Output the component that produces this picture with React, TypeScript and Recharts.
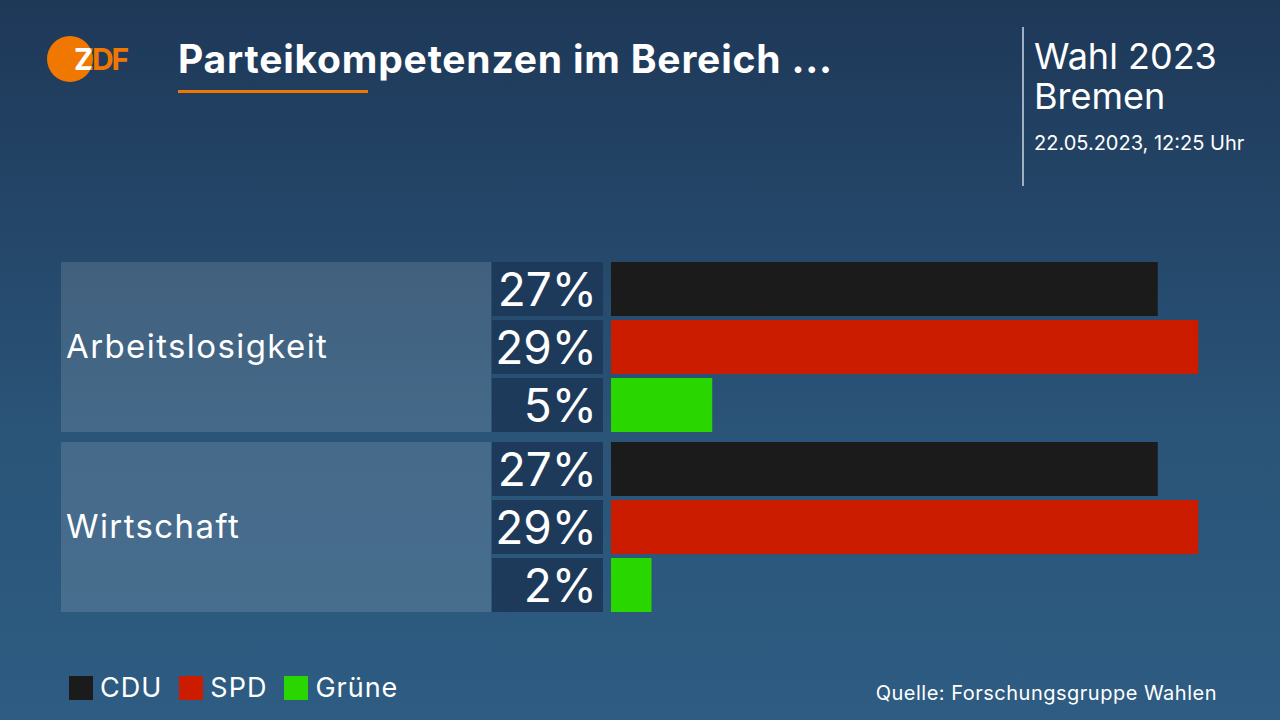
import React from "react";
import { BarChart, Bar, XAxis, YAxis, LabelList } from "recharts";

const topics = ["Arbeitslosigkeit", "Wirtschaft"];
const cdu = [27, 27];
const spd = [29, 29];
const gruene = [5, 2];

const parties = [
  { key: "cdu", name: "CDU", color: "#1b1b1b" },
  { key: "spd", name: "SPD", color: "#cc1c00" },
  { key: "gruene", name: "Grüne", color: "#2ad600" },
];

const data = topics.map((topic, i) => ({
  topic,
  cdu: cdu[i],
  spd: spd[i],
  gruene: gruene[i],
}));

const FONT = "Inter, 'Noto Sans', sans-serif";

// left panel with topic name, drawn as y axis tick
const TopicTick = (props: any) => {
  const { y, payload } = props;
  return (
    <g>
      <rect x={61} y={y - 85} width={430} height={170} fill="rgba(255,255,255,0.13)" />
      <text x={66} y={y + 11} fill="#fff" fontSize={33} letterSpacing={1.4} fontFamily={FONT}>
        {payload.value}
      </text>
    </g>
  );
};

// dark box with percentage left of each bar
const PctLabel = (props: any) => {
  const { x, y, height, value } = props;
  return (
    <g>
      <rect x={x - 119} y={y} width={111} height={height} fill="#1e3a5a" />
      <text
        x={x - 14}
        y={y + height / 2 + 17}
        textAnchor="end"
        fill="#fff"
        fontSize={46}
        fontFamily={FONT}
      >
        {value}%
      </text>
    </g>
  );
};

export default function App() {
  return (
    <div
      style={{
        position: "absolute",
        left: 0,
        top: 0,
        width: 1280,
        height: 720,
        overflow: "hidden",
        background: "linear-gradient(180deg, #1e3858 0%, #2a5478 60%, #2e5c82 100%)",
        fontFamily: FONT,
        color: "#fff",
      }}
    >
      <svg width={1280} height={200} style={{ position: "absolute", left: 0, top: 0 }}>
        <defs>
          <clipPath id="logoClip">
            <circle cx={70} cy={59} r={23} />
          </clipPath>
        </defs>
        <circle cx={70} cy={59} r={23} fill="#f07800" />
        <text x={74} y={70} fill="#f07800" fontSize={30} fontWeight={700} fontFamily={FONT} letterSpacing={-2}>
          ZDF
        </text>
        <text x={74} y={70} fill="#fff" fontSize={30} fontWeight={700} fontFamily={FONT} letterSpacing={-2} clipPath="url(#logoClip)">
          ZDF
        </text>
        <text x={178} y={73} fill="#fff" fontSize={39} fontWeight={700} letterSpacing={0.8} fontFamily={FONT}>
          Parteikompetenzen im Bereich ...
        </text>
        <rect x={178} y={90} width={190} height={3} fill="#f07800" />
        <rect x={1022} y={27} width={2} height={159} fill="#9fb0c2" />
        <text x={1034} y={69} fill="#fff" fontSize={36} fontFamily={FONT}>
          Wahl 2023
        </text>
        <text x={1034} y={109} fill="#fff" fontSize={36} fontFamily={FONT}>
          Bremen
        </text>
        <text x={1034} y={150} fill="#fff" fontSize={20} fontFamily={FONT}>
          22.05.2023, 12:25 Uhr
        </text>
      </svg>

      <div style={{ position: "absolute", left: 0, top: 0 }}>
        <BarChart
          width={1280}
          height={720}
          data={data}
          layout="vertical"
          margin={{ top: 257, right: 61.5, bottom: 103, left: 61 }}
          barSize={54}
          barGap={4}
          barCategoryGap={5}
        >
          <XAxis type="number" domain={[0, 30]} hide />
          <YAxis
            type="category"
            dataKey="topic"
            width={550}
            axisLine={false}
            tickLine={false}
            tick={<TopicTick />}
          />
          {parties.map((p) => (
            <Bar key={p.key} dataKey={p.key} name={p.name} fill={p.color} isAnimationActive={false}>
              <LabelList dataKey={p.key} content={<PctLabel />} />
            </Bar>
          ))}
        </BarChart>
      </div>

      <div
        style={{
          position: "absolute",
          left: 69,
          top: 671,
          display: "flex",
          alignItems: "center",
          fontSize: 27,
          letterSpacing: 1,
        }}
      >
        {parties.map((p) => (
          <div key={p.key} style={{ display: "flex", alignItems: "center", marginRight: 17 }}>
            <span style={{ width: 24, height: 24, background: p.color, display: "inline-block", marginRight: 7 }} />
            <span>{p.name}</span>
          </div>
        ))}
      </div>

      <div
        style={{
          position: "absolute",
          right: 63,
          top: 681,
          fontSize: 20,
          letterSpacing: 0.5,
        }}
      >
        Quelle: Forschungsgruppe Wahlen
      </div>
    </div>
  );
}
